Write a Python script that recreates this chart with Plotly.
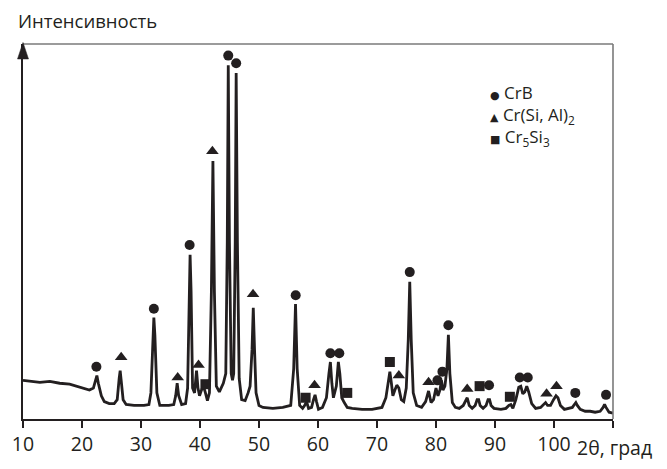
import plotly.graph_objects as go

# XRD pattern (2θ, intensity in arbitrary units)
two_theta = [10.00, 11.18, 12.86, 14.54, 16.22, 17.90, 19.58, 21.26, 21.93, 22.27, 22.52, 22.77,
             23.28, 23.78, 24.62, 25.46, 25.97, 26.30, 26.47, 26.64, 26.97, 27.48, 28.82, 30.50,
             31.34, 31.68, 32.02, 32.18, 32.35, 32.69, 33.19, 34.71, 35.55, 35.88, 36.13, 36.39,
             36.89, 37.56, 37.90, 38.15, 38.32, 38.49, 38.74, 39.08, 39.41, 39.66, 39.92, 40.25,
             40.59, 40.92, 41.26, 41.60, 41.93, 42.19, 42.44, 42.77, 43.28, 43.95, 44.37, 44.62,
             44.79, 44.99, 45.29, 45.51, 45.71, 45.97, 46.13, 46.34, 46.64, 47.06, 47.65, 48.15,
             48.49, 48.82, 49.03, 49.24, 49.50, 50.00, 50.67, 52.35, 54.03, 55.38, 55.88, 56.19,
             56.47, 56.89, 57.39, 57.73, 58.07, 58.40, 58.91, 59.24, 59.50, 59.75, 60.08, 60.76,
             61.43, 61.85, 62.10, 62.35, 62.61, 63.11, 63.45, 63.70, 64.03, 64.45, 64.96, 65.80,
             67.48, 69.16, 70.84, 71.51, 71.93, 72.18, 72.44, 72.69, 73.03, 73.36, 73.70, 74.12,
             74.54, 74.96, 75.30, 75.55, 75.80, 76.14, 76.72, 77.56, 78.24, 78.74, 79.16, 79.58,
             80.00, 80.34, 80.67, 80.93, 81.18, 81.51, 81.85, 82.10, 82.35, 82.77, 83.28, 83.95,
             84.62, 85.04, 85.29, 85.63, 86.13, 86.64, 86.97, 87.23, 87.48, 87.98, 88.49, 88.82,
             89.08, 89.33, 89.83, 91.01, 91.85, 92.35, 92.69, 93.03, 93.53, 94.03, 94.37, 94.71,
             95.04, 95.38, 95.71, 96.22, 96.89, 97.73, 98.24, 98.57, 98.91, 99.41, 99.92, 100.34,
             100.67, 101.09, 101.76, 102.44, 103.11, 103.45, 103.70, 103.95, 104.45, 105.29, 106.13,
             106.97, 107.82, 108.32, 108.57, 108.82, 109.33, 110.00]
intensity = [40, 39, 38, 39, 37, 36, 33, 30, 32, 40, 45, 37,
             24, 18, 16, 16, 20, 42, 50, 40, 20, 15, 14, 14,
             15, 27, 87, 105, 87, 27, 14, 14, 15, 24, 37, 24,
             15, 16, 32, 132, 170, 132, 32, 27, 50, 32, 24, 30,
             34, 27, 19, 27, 132, 267, 132, 34, 28, 37, 47, 182,
             366, 182, 47, 40, 47, 182, 358, 182, 42, 20, 19, 27,
             34, 72, 115, 72, 27, 14, 12, 11, 12, 14, 52, 119,
             52, 14, 11, 14, 18, 11, 12, 20, 25, 18, 10, 12,
             22, 47, 59, 37, 22, 34, 59, 47, 22, 17, 12, 11,
             10, 10, 12, 22, 42, 49, 37, 24, 30, 35, 32, 20,
             18, 32, 82, 142, 82, 27, 14, 12, 18, 29, 17, 20,
             32, 24, 30, 40, 30, 34, 52, 87, 47, 17, 12, 11,
             14, 19, 22, 14, 11, 14, 20, 20, 14, 11, 14, 20,
             20, 14, 11, 10, 11, 14, 15, 11, 20, 33, 34, 26,
             28, 34, 28, 16, 11, 12, 15, 17, 14, 14, 20, 24,
             22, 14, 10, 11, 12, 15, 17, 14, 10, 8, 8,
             7, 8, 12, 15, 12, 7, 6]

# phase markers (2θ, marker height)
crb_x = [22.44, 32.18, 38.24, 44.79, 46.13, 56.22, 62.10, 63.61, 75.55, 80.25, 81.09, 82.10,
         88.99, 94.20, 95.55, 103.61, 108.82]
crb_y = [54, 114, 180, 376, 368, 128, 68, 68, 152, 40, 49, 97, 35, 43, 43, 27, 25]
crsial_x = [26.64, 36.22, 39.75, 42.10, 48.99, 59.41, 73.70, 78.74, 85.29, 98.74, 100.42]
crsial_y = [64, 43, 56, 277, 129, 35, 45, 38, 31, 26, 34]
cr5si3_x = [40.92, 57.90, 64.96, 72.18, 87.39, 92.52]
cr5si3_y = [36, 22, 27, 59, 34, 23]

tick_vals = [10, 20, 30, 40, 50, 60, 70, 80, 90, 100, 110]
tick_text = ["10", "20", "30", "40", "50", "60", "70", "80", "90", "100", ""]
x_axis_title = "2θ, град"
y_axis_title = "Интенсивность"

legend_names = ["CrB", "Cr(Si, Al)<sub>2</sub>", "Cr<sub>5</sub>Si<sub>3</sub>"]
legend_glyphs = ["●", "▲", "■"]

INK = "#231f20"
FONT = "Open Sans"

fig = go.Figure()
fig.add_trace(go.Scatter(x=two_theta, y=intensity, mode="lines",
                         line=dict(color=INK, width=2.8), showlegend=False, hoverinfo="skip"))
fig.add_trace(go.Scatter(x=crb_x, y=crb_y, mode="markers", cliponaxis=False,
                         marker=dict(symbol="circle", size=10, color=INK), showlegend=False))
fig.add_trace(go.Scatter(x=crsial_x, y=crsial_y, mode="markers", cliponaxis=False,
                         marker=dict(symbol="triangle-up", size=11, color=INK), showlegend=False))
fig.add_trace(go.Scatter(x=cr5si3_x, y=cr5si3_y, mode="markers", cliponaxis=False,
                         marker=dict(symbol="square", size=10, color=INK), showlegend=False))

legend_lines = ["<span style='font-family:DejaVu Sans;font-size:11px'>" + g + "</span> " + n
                for g, n in zip(legend_glyphs, legend_names)]

annotations = [
    dict(text=y_axis_title, xref="paper", yref="paper", x=-0.012, y=1.062,
         xanchor="left", yanchor="middle", showarrow=False,
         font=dict(family=FONT, size=18.5, color=INK)),
    dict(text=x_axis_title, xref="paper", yref="paper", x=0.935, y=-0.035,
         xanchor="left", yanchor="top", showarrow=False,
         font=dict(family=FONT, size=19.5, color=INK)),
    dict(text="<br>".join(legend_lines), xref="paper", yref="paper", x=0.788, y=0.808,
         xanchor="left", yanchor="middle", align="left", showarrow=False,
         font=dict(family=FONT, size=17, color=INK)),
]

shapes = [
    dict(type="line", xref="paper", yref="paper", x0=0, x1=1, y0=1, y1=1,
         line=dict(color="#7a7a7a", width=1.6)),
    dict(type="line", xref="paper", yref="paper", x0=1, x1=1, y0=0, y1=1,
         line=dict(color="#7a7a7a", width=1.6)),
    dict(type="path", xref="paper", yref="paper", xsizemode="pixel", ysizemode="pixel",
         xanchor=0, yanchor=1, path="M -5.5,-15 L 5.5,-15 L 0,1.5 Z",
         fillcolor=INK, line=dict(color=INK, width=0.5)),
]

fig.update_layout(
    width=667, height=469,
    margin=dict(l=18, r=54, t=44, b=37),
    paper_bgcolor="white", plot_bgcolor="white",
    annotations=annotations, shapes=shapes,
    xaxis=dict(range=[10, 110], tickvals=tick_vals, ticktext=tick_text,
               ticks="outside", ticklen=7, tickwidth=2, tickcolor=INK,
               showline=True, linecolor=INK, linewidth=2, showgrid=False, zeroline=False,
               tickfont=dict(family=FONT, size=19.5, color=INK)),
    yaxis=dict(range=[0, 388], showticklabels=False, ticks="", showline=True,
               linecolor=INK, linewidth=2, showgrid=False, zeroline=False),
)

fig.write_html("out.html")
